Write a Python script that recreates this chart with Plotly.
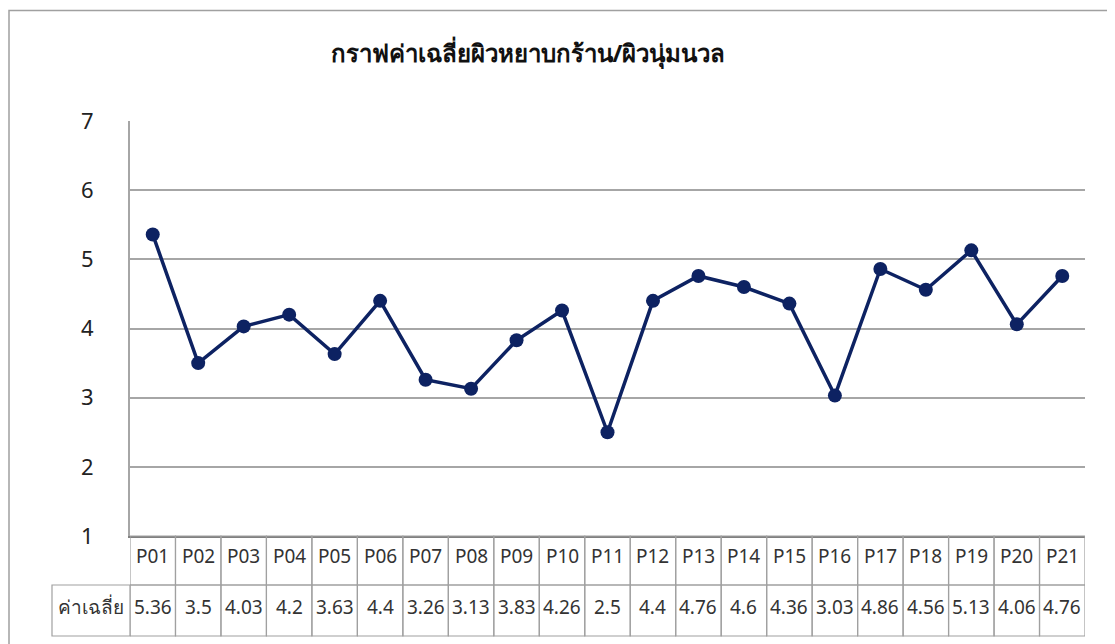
import plotly.graph_objects as go

categories = ["P01", "P02", "P03", "P04", "P05", "P06", "P07", "P08", "P09", "P10", "P11",
              "P12", "P13", "P14", "P15", "P16", "P17", "P18", "P19", "P20", "P21"]
values = [5.36, 3.5, 4.03, 4.2, 3.63, 4.4, 3.26, 3.13, 3.83, 4.26, 2.5,
          4.4, 4.76, 4.6, 4.36, 3.03, 4.86, 4.56, 5.13, 4.06, 4.76]
value_labels = ["5.36", "3.5", "4.03", "4.2", "3.63", "4.4", "3.26", "3.13", "3.83", "4.26", "2.5",
                "4.4", "4.76", "4.6", "4.36", "3.03", "4.86", "4.56", "5.13", "4.06", "4.76"]
series_name = "ค่าเฉลี่ย"
title_text = "กราฟค่าเฉลี่ยผิวหยาบกร้าน/ผิวนุ่มนวล"
y_ticks = [1, 2, 3, 4, 5, 6, 7]

OFF = 8  # page body margin
W, H = 1115 - OFF, 644 - OFF
# plot area in screen pixels
SX0, SX1, SY0, SY1 = 130, 1085, 121, 536
L = SX0 - OFF
T = SY0 - OFF
R = W - (SX1 - OFF)
B = H - (SY1 - OFF)
PW, PH = W - L - R, H - T - B

def px2x(px):
    return (px - OFF - L) / PW

def py2y(py):
    return (H - B - (py - OFF)) / PH

FONT = "Noto Sans, Tahoma, sans-serif"
GRID = "#A6A6A6"
BORDER = "#A0A0A0"
NAVY = "#0D2262"

idx = list(range(len(categories)))

fig = go.Figure()
fig.add_trace(go.Scatter(
    x=idx, y=values, mode="lines+markers", name=series_name,
    line=dict(color=NAVY, width=3.5),
    marker=dict(color=NAVY, size=14),
    cliponaxis=False,
))

shapes = []
annotations = []

# outer chart border
shapes.append(dict(type="rect", xref="paper", yref="paper",
                   x0=px2x(9), x1=px2x(1113), y0=py2y(670), y1=py2y(10.5),
                   line=dict(color=BORDER, width=1.5), fillcolor="rgba(0,0,0,0)", layer="below"))

row1_top, row1_bot = 536, 585
row2_top, row2_bot = 585, 636
TF = dict(size=19, color="#333", family=FONT)
for i, (c, v) in enumerate(zip(categories, value_labels)):
    for (y0, y1) in [(row1_top, row1_bot), (row2_top, row2_bot)]:
        shapes.append(dict(type="rect", xref="x", yref="paper",
                           x0=i - 0.5, x1=i + 0.5, y0=py2y(y1), y1=py2y(y0),
                           line=dict(color=BORDER, width=1.2)))
    annotations.append(dict(x=i, y=py2y(556), xref="x", yref="paper", xanchor="center",
                            yanchor="middle", text=c, showarrow=False, font=TF))
    annotations.append(dict(x=i, y=py2y(607), xref="x", yref="paper", xanchor="center",
                            yanchor="middle", text=v, showarrow=False, font=TF))

# label cell
shapes.append(dict(type="rect", xref="paper", yref="paper",
                   x0=px2x(52), x1=px2x(130), y0=py2y(row2_bot), y1=py2y(row2_top),
                   line=dict(color=BORDER, width=1.2)))
annotations.append(dict(x=px2x(91), y=py2y(607), xref="paper", yref="paper",
                        xanchor="center", yanchor="middle",
                        text=series_name, showarrow=False, font=TF))

fig.update_layout(
    width=W, height=H,
    margin=dict(l=L, r=R, t=T, b=B),
    paper_bgcolor="white", plot_bgcolor="white",
    showlegend=False,
    title=dict(text="<b>" + title_text + "</b>", x=(528 - OFF) / W, xanchor="center",
               y=1 - (54 - OFF) / H, yanchor="middle",
               font=dict(size=24, color="#111", family=FONT)),
    xaxis=dict(range=[-0.5, len(categories) - 0.5], showticklabels=False, showgrid=False,
               zeroline=False, showline=True, linecolor="#808080", linewidth=2, ticks=""),
    yaxis=dict(range=[1, 7], tickvals=y_ticks, showgrid=True, gridcolor=GRID, gridwidth=1.5,
               zeroline=False, showline=True, linecolor=GRID, linewidth=2, ticks="",
               ticklabelstandoff=30,
               tickfont=dict(size=22, color="#222", family=FONT)),
    shapes=shapes,
    annotations=annotations,
)

fig.write_html("out.html")
